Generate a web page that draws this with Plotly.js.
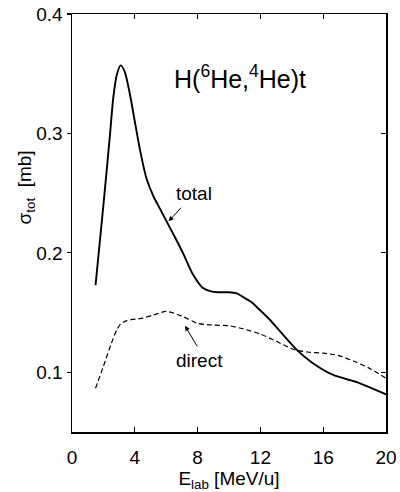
<!DOCTYPE html>
<html>
<head>
<meta charset="utf-8">
<script src="https://cdn.plot.ly/plotly-3.0.1.min.js"></script>
<style>html,body{margin:0;padding:0;background:#fff;}#chart{width:400px;height:492px;}</style>
</head>
<body>
<div id="chart"></div>
<script>
var totalE = [1.5, 2.0, 2.42, 2.63, 2.85, 3.1, 3.35, 3.7, 4.0, 4.35, 4.75, 5.2, 5.6, 6.2, 6.6, 7.1, 7.7, 8.3, 8.8, 9.3, 10.0, 10.5, 10.9, 11.4, 11.9, 12.6, 13.2, 14.3, 15.3, 16.6, 18.3, 20.0];
var totalSigma = [0.173, 0.240, 0.299, 0.330, 0.349, 0.357, 0.352, 0.332, 0.310, 0.285, 0.262, 0.247, 0.237, 0.222, 0.212, 0.199, 0.182, 0.171, 0.168, 0.167, 0.167, 0.166, 0.163, 0.159, 0.153, 0.144, 0.135, 0.119, 0.108, 0.098, 0.091, 0.0815];
var directE = [1.5, 2.0, 2.5, 2.85, 3.1, 3.5, 4.5, 5.2, 6.0, 7.0, 8.0, 9.0, 10.0, 11.0, 12.0, 13.0, 14.2, 15.0, 16.0, 17.0, 18.0, 19.0, 20.0];
var directSigma = [0.0866, 0.105, 0.124, 0.1355, 0.1405, 0.1433, 0.1453, 0.148, 0.151, 0.147, 0.141, 0.1395, 0.139, 0.136, 0.132, 0.126, 0.1187, 0.117, 0.116, 0.114, 0.109, 0.103, 0.095];
var xTicks = [0, 4, 8, 12, 16, 20];
var yTicks = [0.1, 0.2, 0.3, 0.4];
var yTickText = ['0.1', '0.2', '0.3', '0.4'];

var traces = [
  {x: totalE, y: totalSigma, mode: 'lines', line: {color: '#000', width: 1.9, shape: 'spline', smoothing: 0.8}, hoverinfo: 'skip', showlegend: false},
  {x: directE, y: directSigma, mode: 'lines', line: {color: '#000', width: 1.2, dash: '5px,3px', shape: 'spline', smoothing: 0.7}, hoverinfo: 'skip', showlegend: false},
  {x: totalE, y: totalSigma, yaxis: 'y2', mode: 'lines', line: {color: 'rgba(0,0,0,0)', width: 0}, hoverinfo: 'skip', showlegend: false}
];

var FAM = 'Liberation Sans, Arial, sans-serif';
var tickFont = {family: FAM, size: 19, color: '#000'};
var labFont = {family: FAM, size: 19, color: '#000'};

var layout = {
  width: 400, height: 492,
  margin: {l: 72, r: 14, t: 14, b: 60},
  paper_bgcolor: '#fff', plot_bgcolor: '#fff',
  font: labFont,
  xaxis: {range: [0, 20], tickvals: xTicks, ticktext: xTicks.map(String), ticks: 'inside', ticklen: 5, tickwidth: 1.2, tickcolor: '#000',
          ticklabelstandoff: 8, automargin: false,
          title: {text: 'E<sub>lab</sub> [MeV/u]', font: labFont, standoff: 0},
          showline: true, linecolor: '#000', linewidth: 1.5, mirror: 'ticks', showgrid: false, zeroline: false, tickfont: tickFont},
  yaxis: {range: [0.05, 0.4], tickvals: yTicks, ticktext: yTickText, ticks: 'outside', ticklen: 4, tickwidth: 1.2, tickcolor: '#000',
          showline: true, linecolor: '#000', linewidth: 1.5, showgrid: false, zeroline: false, tickfont: tickFont},
  yaxis2: {range: [0.05, 0.4], overlaying: 'y', side: 'right', tickvals: yTicks, ticks: 'inside', ticklen: 5, tickwidth: 1.2, tickcolor: '#000',
           showticklabels: false, showline: true, linecolor: '#000', linewidth: 1.5, showgrid: false, zeroline: false},
  annotations: [
    {xref: 'x', yref: 'y', x: 10.7, y: 0.347, text: 'H(<sup>6</sup>He,<sup>4</sup>He)t', showarrow: false,
     font: {family: FAM, size: 25, color: '#000'}},
    {xref: 'x', yref: 'y', x: 7.77, y: 0.250, text: 'total', showarrow: false, font: labFont},
    {xref: 'x', yref: 'y', x: 6.15, y: 0.2265, text: '', showarrow: true, ax: 14, ay: -15, arrowhead: 2, arrowsize: 1, arrowwidth: 1, arrowcolor: '#000'},
    {xref: 'x', yref: 'y', x: 8.15, y: 0.110, text: 'direct', showarrow: false, font: labFont},
    {xref: 'x', yref: 'y', x: 7.2, y: 0.1389, text: '', showarrow: true, ax: 13, ay: 22, arrowhead: 2, arrowsize: 1, arrowwidth: 1, arrowcolor: '#000'},
    {xref: 'paper', yref: 'paper', x: -0.188, y: 0.585, text: 'σ<sub>tot</sub>  [mb]', textangle: -90, showarrow: false, font: labFont}
  ]
};

Plotly.newPlot('chart', traces, layout, {staticPlot: true, displayModeBar: false});
</script>
</body>
</html>
